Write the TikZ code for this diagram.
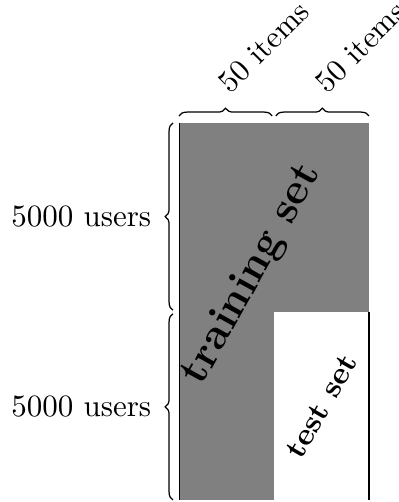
\documentclass[tikz,border=0pt]{standalone}
\usepackage{tikz}
\usetikzlibrary{positioning,calc,decorations.pathreplacing}

\begin{document}
\begin{tikzpicture}[
  brace/.style={decorate, decoration={brace, amplitude=2.5pt}, thin},
  sidelabel/.style={midway, left=3.5pt},
  toplabel/.style={midway, anchor=south west, rotate=45, xshift=2.5pt},
  setlabel/.style={inner sep=0pt, font=\bfseries}
]
\useasboundingbox (0,0) rectangle (4.523,5.691);

% Matrix corners
\coordinate (bl) at (2.029,0.023);
\coordinate (bm) at (3.106,0.023);
\coordinate (br) at (4.183,0.023);
\coordinate (ml) at (2.029,2.154);
\coordinate (mm) at (3.106,2.154);
\coordinate (mr) at (4.183,2.154);
\coordinate (tl) at (2.029,4.297);
\coordinate (tr) at (4.183,4.297);

% Blocks
\fill[gray] (bl) rectangle (tr);
\fill[white] (bm) rectangle (mr);
\draw[black, line width=0.3pt] (bl) -- (tl);
\draw[black, line width=0.4pt] (br) -- (mr);

% Brace ends
\coordinate (lb0) at (1.961,0.023);
\coordinate (lb1) at (1.961,2.154);
\coordinate (lb2) at (1.961,4.297);
\coordinate (tb0) at (2.029,4.376);
\coordinate (tb1) at (3.106,4.376);
\coordinate (tb2) at (4.183,4.376);

% Users
\draw[brace] ($(lb1)+(0,0.02)$) -- (lb2) node[sidelabel] (usersA) {5000 users};
\draw[brace] (lb0) -- ($(lb1)-(0,0.02)$) node[sidelabel] (usersB) {5000 users};

% Items
\draw[brace] (tb0) -- ($(tb1)-(0.02,0)$) node[toplabel] (itemsA) {50 items};
\draw[brace] ($(tb1)+(0.02,0)$) -- (tb2) node[toplabel] (itemsB) {50 items};

% Sets
\node[setlabel, rotate=61, font=\fontsize{14}{17}\bfseries] (train) at (2.86,2.58) {training set};
\node[setlabel, rotate=60] (test) at ($(bm)!0.5!(mr)$) {test set};
\end{tikzpicture}
\end{document}
